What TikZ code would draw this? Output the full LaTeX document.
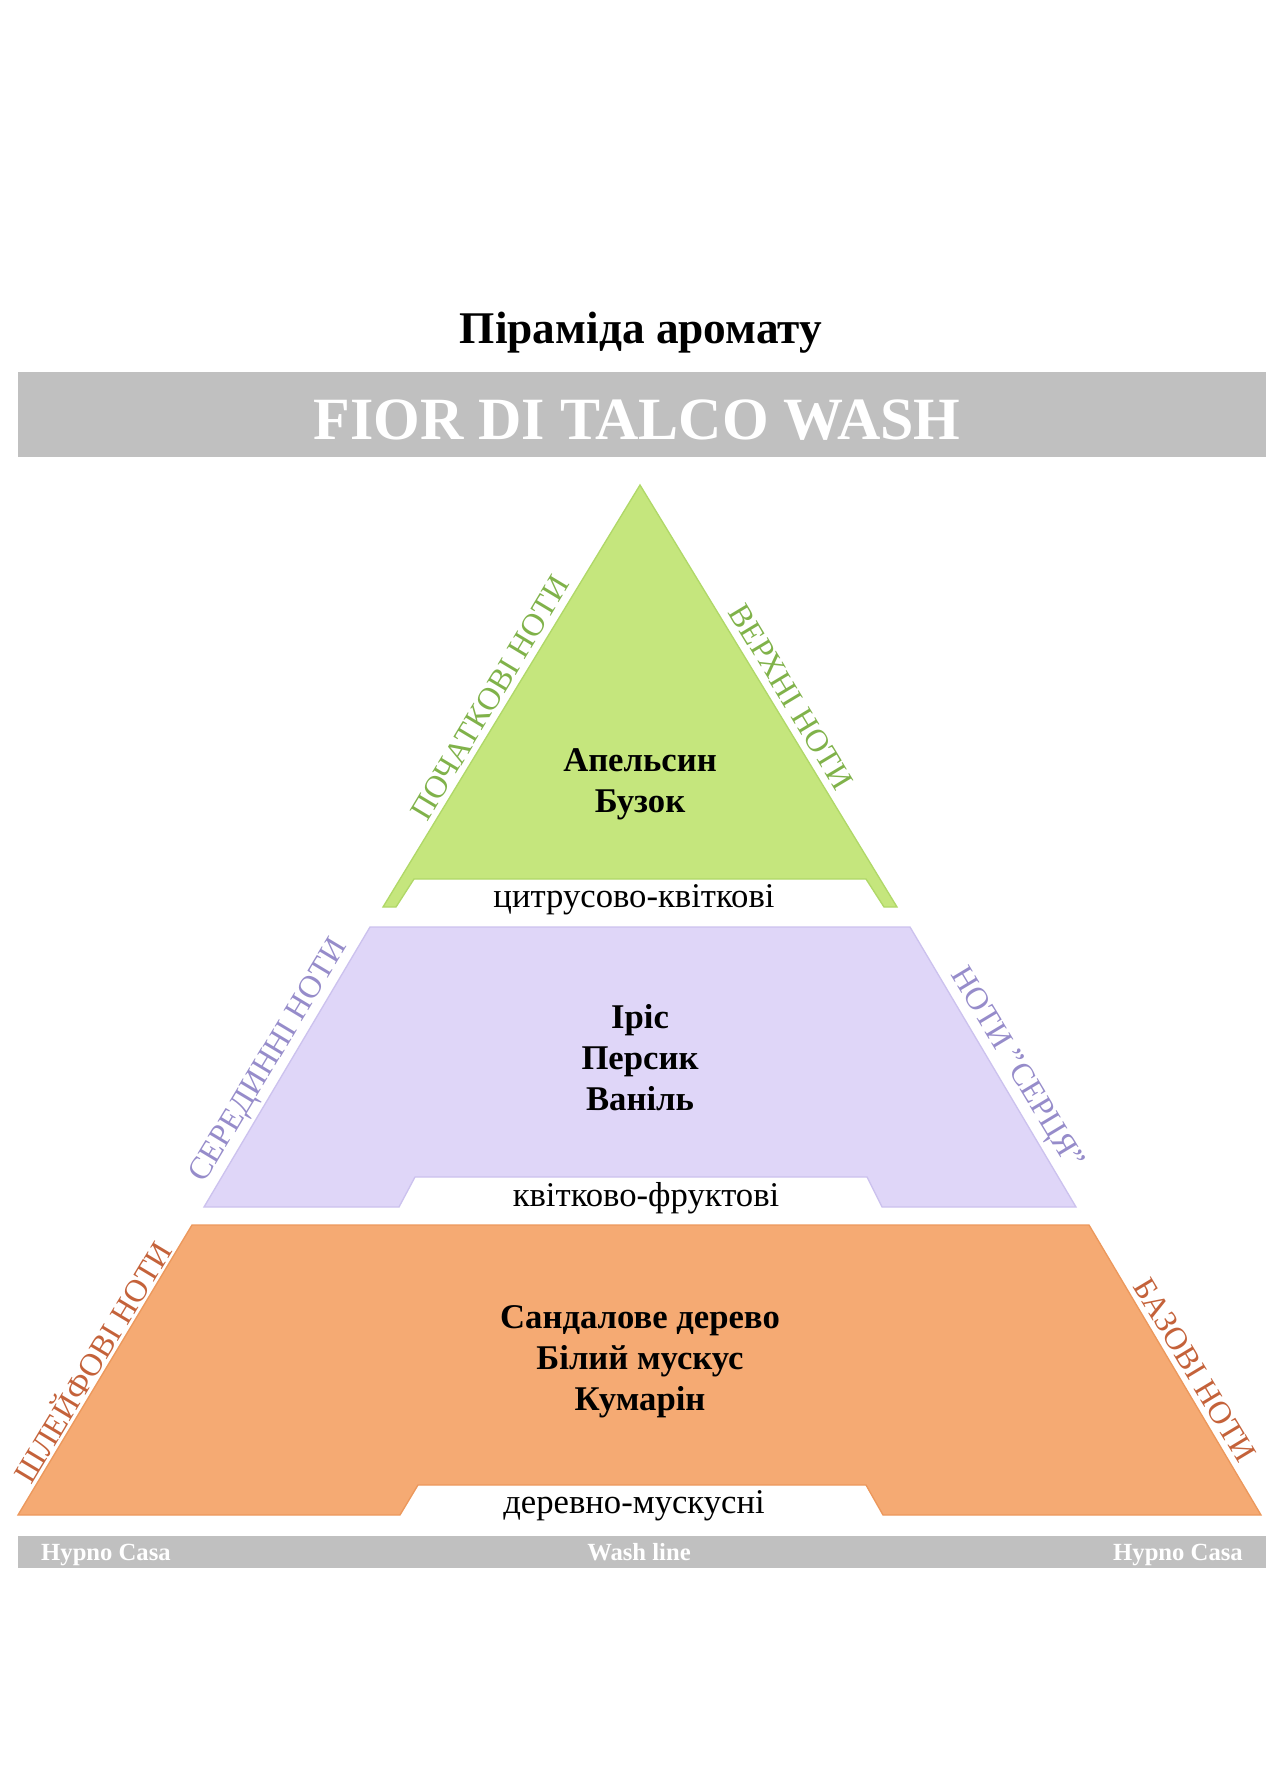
\documentclass[tikz,border=0pt]{standalone}
\usepackage{fontspec}
\setmainfont{Liberation Serif}
\usepackage{xcolor}
\usepackage{tikz}
\usetikzlibrary{positioning}

\definecolor{bandgray}{RGB}{192,192,192}
\definecolor{topfill}{RGB}{197,230,125}
\definecolor{topline}{RGB}{176,216,104}
\definecolor{toptext}{RGB}{128,178,74}
\definecolor{heartfill}{RGB}{223,214,248}
\definecolor{heartline}{RGB}{204,194,238}
\definecolor{hearttext}{RGB}{150,140,202}
\definecolor{basefill}{RGB}{245,170,115}
\definecolor{baseline}{RGB}{236,152,92}
\definecolor{basetext}{RGB}{196,98,58}

\begin{document}
\begin{tikzpicture}[x=0.75pt, y=-0.75pt,
  notes/.style={font=\fontsize{26}{30.75}\selectfont\bfseries, align=center, inner sep=0pt},
  accord/.style={font=\fontsize{26}{30}\selectfont, anchor=base, inner sep=0pt},
  side/.style={font=\fontsize{24}{28}\selectfont, inner sep=0pt},
  footer/.style={font=\fontsize{18.5}{22}\selectfont\bfseries, text=white, anchor=base, inner sep=0pt}]
  \useasboundingbox (0,0) rectangle (1284,1791);

  % Title and banner
  \node[font=\fontsize{34}{40}\selectfont\bfseries, anchor=base] (title) at (641,343) {Піраміда аромату};
  \fill[bandgray] (18,372) rectangle (1266,457);
  \node[font=\fontsize{45}{54}\selectfont\bfseries, text=white, anchor=base] (fragrance) at (637,439) {FIOR DI TALCO WASH};

  % Top notes
  \filldraw[fill=topfill, draw=topline, line width=1pt]
    (640,485) -- (897,907) -- (884,907) -- (866,879) -- (414,879) -- (396,907) -- (383,907) -- cycle;
  \node[notes] (topnotes) at (640,784) {Апельсин\\Бузок};
  \node[accord] (topaccord) at (634,907) {цитрусово-квіткові};
  \node[side, text=toptext, rotate=59] (opening) at (490,698) {ПОЧАТКОВІ НОТИ};
  \node[side, text=toptext, rotate=-59] (upper) at (791,697) {ВЕРХНІ НОТИ};

  % Heart notes
  \filldraw[fill=heartfill, draw=heartline, line width=1pt]
    (370,927) -- (910,927) -- (1076,1207) -- (882,1207) -- (867,1177) -- (415,1177) -- (399,1207) -- (204,1207) -- cycle;
  \node[notes] (heartnotes) at (640,1058) {Іріс\\Персик\\Ваніль};
  \node[accord] (heartaccord) at (646,1206) {квітково-фруктові};
  \node[side, text=hearttext, rotate=59] (middle) at (270,1061) {СЕРЕДИННІ НОТИ};
  \node[side, text=hearttext, rotate=-59] (heart) at (1016,1069) {НОТИ \char34 СЕРЦЯ\char34};

  % Base notes
  \filldraw[fill=basefill, draw=baseline, line width=1pt]
    (192,1225) -- (1089,1225) -- (1261,1515) -- (883,1515) -- (866,1485) -- (418,1485) -- (400,1515) -- (18,1515) -- cycle;
  \node[notes] (basenotes) at (640,1362) {Сандалове дерево\\Білий мускус\\Кумарін};
  \node[accord] (baseaccord) at (634,1513) {деревно-мускусні};
  \node[side, text=basetext, rotate=59] (trail) at (91,1361) {ШЛЕЙФОВІ НОТИ};
  \node[side, text=basetext, rotate=-59] (bottom) at (1195,1370) {БАЗОВІ НОТИ};

  % Footer
  \fill[bandgray] (18,1536) rectangle (1266,1568);
  \node[footer] (brandl) at (106,1560) {Hypno Casa};
  \node[footer] (line) at (639,1560) {Wash line};
  \node[footer] (brandr) at (1178,1560) {Hypno Casa};
\end{tikzpicture}
\end{document}
